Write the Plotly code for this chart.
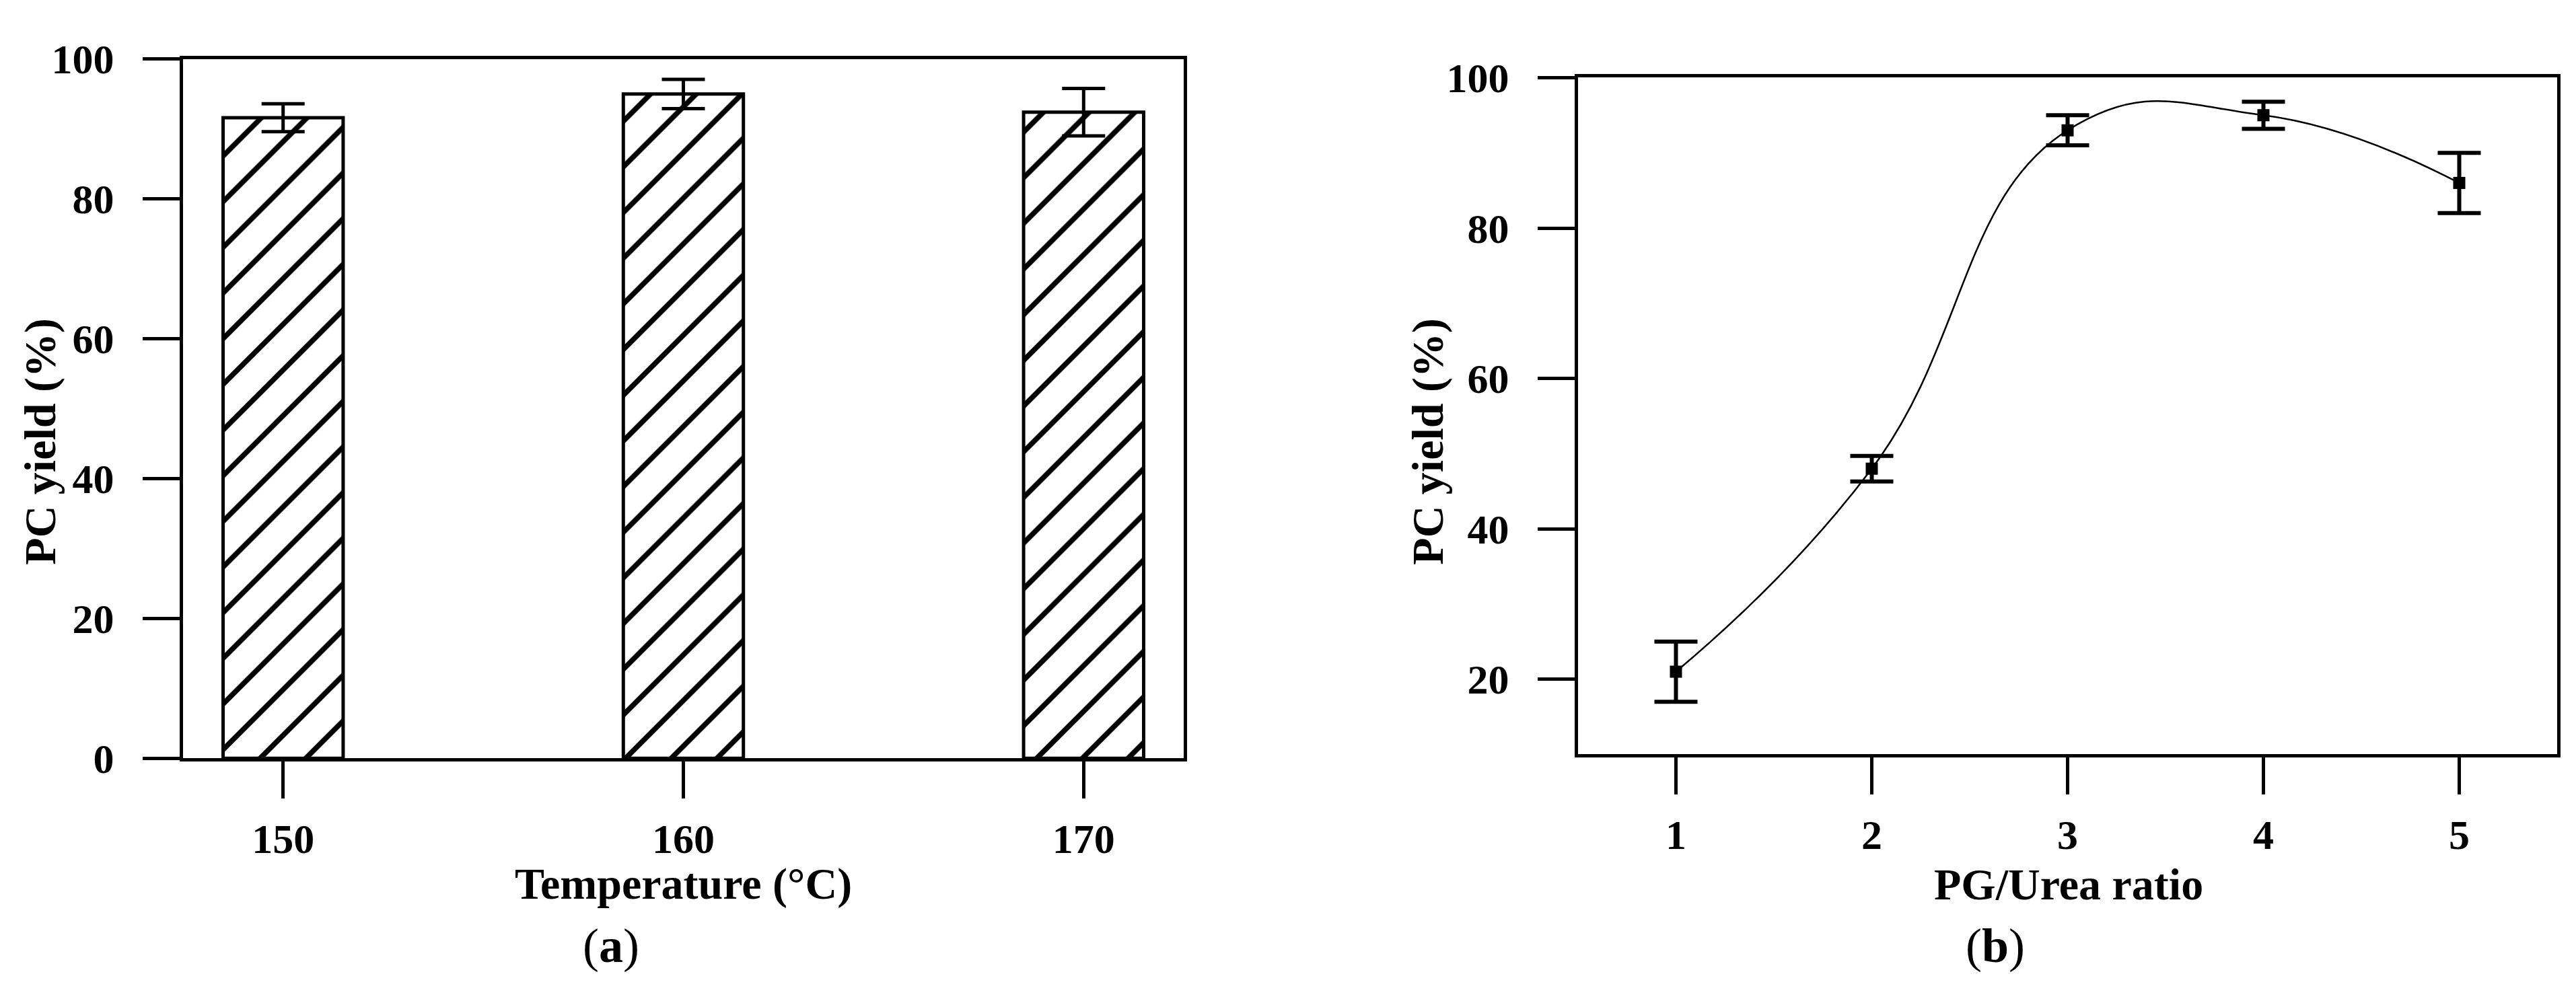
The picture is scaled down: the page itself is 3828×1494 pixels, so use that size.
import plotly.graph_objects as go

# Panel (a): yield vs temperature
temps = [150, 160, 170]
temp_yield = [91.6, 95.0, 92.4]
temp_err = [2.0, 2.1, 3.4]

# Panel (b): yield vs PG/Urea ratio
ratios = [1, 2, 3, 4, 5]
ratio_yield = [21.0, 48.0, 93.0, 95.0, 86.0]
ratio_err = [4.0, 1.7, 2.0, 1.8, 4.0]

W, H = 3828, 1494
FONT = "Liberation Serif"


def px_x(p):
    return p / W


def px_y(p):
    return 1 - p / H


fig = go.Figure()

fig.add_trace(go.Bar(
    x=temps, y=temp_yield, width=3,
    error_y=dict(type="data", array=temp_err, color="black", thickness=5, width=32),
    marker=dict(
        color="white",
        line=dict(color="black", width=5),
        pattern=dict(shape="/", fgcolor="black", bgcolor="white", fgopacity=1,
                     size=48, solidity=0.16),
    ),
    xaxis="x", yaxis="y", showlegend=False,
))

fig.add_trace(go.Scatter(
    x=ratios, y=ratio_yield, mode="lines+markers",
    line=dict(color="black", width=2.5, shape="spline", smoothing=1.3),
    marker=dict(symbol="square", size=18, color="black"),
    error_y=dict(type="data", array=ratio_err, color="black", thickness=6, width=32),
    xaxis="x2", yaxis="y2", showlegend=False,
))

axis_common = dict(
    showline=True, linecolor="black", linewidth=5, mirror=True,
    ticks="outside", ticklen=55, tickwidth=5, tickcolor="black",
    showgrid=False, zeroline=False,
    tickfont=dict(family=FONT, size=62, color="black", weight="bold"),
)

fig.update_layout(
    width=W, height=H,
    margin=dict(l=0, r=0, t=0, b=0),
    paper_bgcolor="white", plot_bgcolor="white",
    font=dict(family=FONT, color="black"),
    xaxis=dict(domain=[px_x(264), px_x(1751)], range=[147.5, 172.5],
               tickvals=temps, anchor="y", ticklabelstandoff=6, **axis_common),
    yaxis=dict(domain=[px_y(1138), px_y(49)], range=[0, 100],
               tickvals=[0, 20, 40, 60, 80, 100], anchor="x",
               ticklabelstandoff=30, **axis_common),
    xaxis2=dict(domain=[px_x(2337), px_x(3792)], range=[0.5, 5.5],
                tickvals=ratios, anchor="y2", ticklabelstandoff=6, **axis_common),
    yaxis2=dict(domain=[px_y(1132), px_y(78)], range=[10, 100],
                tickvals=[20, 40, 60, 80, 100], anchor="x2",
                ticklabelstandoff=30, **axis_common),
)

title_font = dict(family=FONT, size=66, color="black")
labels = [
    ("<b>Temperature (°C)</b>", px_x(1007), px_y(1334), 0, title_font),
    ("<b>PG/Urea ratio</b>", px_x(3066), px_y(1334), 0, title_font),
    ("<b>PC yield (%)</b>", px_x(52), px_y(645), -90, title_font),
    ("<b>PC yield (%)</b>", px_x(2114), px_y(645), -90, title_font),
    ("(<b>a</b>)", px_x(900), px_y(1430), 0, dict(family=FONT, size=72, color="black")),
    ("(<b>b</b>)", px_x(2957), px_y(1430), 0, dict(family=FONT, size=72, color="black")),
]
for text, x, y, angle, font in labels:
    fig.add_annotation(text=text, x=x, y=y, xref="paper", yref="paper",
                       xanchor="center", yanchor="middle", textangle=angle,
                       showarrow=False, font=font)

fig.write_html("out.html")
